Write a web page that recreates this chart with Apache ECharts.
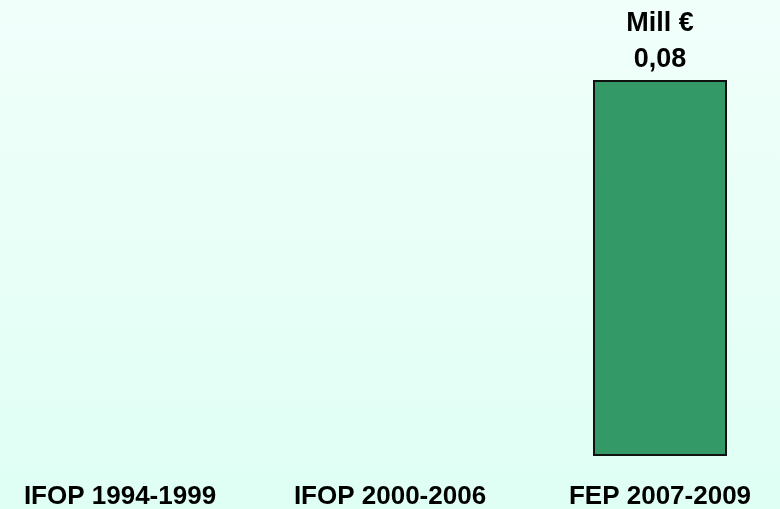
<!DOCTYPE html>
<html>
<head>
<meta charset="utf-8">
<script src="https://cdn.jsdelivr.net/npm/echarts@6/dist/echarts.min.js"></script>
<style>
	html, body { margin: 0; padding: 0; }
	#chart { width: 780px; height: 509px; }
</style>
</head>
<body>
<div id="chart"></div>
<script>
	// periods and funding (Mill €)
	const periods = ['IFOP 1994-1999', 'IFOP 2000-2006', 'FEP 2007-2009'];
	const funding = [null, null, 0.08];
	const unitLabel = 'Mill €';

	const chart = echarts.init(document.getElementById('chart'));

	let option = {
		backgroundColor: {
			type: 'linear',
			x: 0, y: 0, x2: 0, y2: 1,
			colorStops: [
				{ offset: 0, color: '#F1FFFB' },
				{ offset: 1, color: '#DFFFF4' }
			]
		},
		grid: {
			left: -15,
			right: -15,
			top: 80,
			bottom: 53,
			outerBoundsMode: 'none'
		},
		xAxis: {
			type: 'category',
			data: periods,
			axisLine: { show: false },
			axisTick: { show: false },
			axisLabel: {
				interval: 0,
				margin: 28,
				color: '#000',
				fontFamily: 'Liberation Sans, Arial, sans-serif',
				fontWeight: 'bold',
				fontSize: 26
			}
		},
		yAxis: {
			type: 'value',
			min: 0,
			max: 0.08,
			show: false,
			splitLine: { show: false }
		},
		series: [{
			type: 'bar',
			data: funding,
			barWidth: 134,
			itemStyle: {
				color: '#339966',
				borderColor: '#111',
				borderWidth: 2
			},
			label: {
				show: true,
				position: 'top',
				distance: 2,
				color: '#000',
				fontFamily: 'Liberation Sans, Arial, sans-serif',
				fontWeight: 'bold',
				fontSize: 27,
				lineHeight: 36,
				formatter: function (p) {
					return unitLabel + '\n' + String(p.value).replace('.', ',');
				}
			}
		}]
	};

	chart.setOption(option);
</script>
</body>
</html>
